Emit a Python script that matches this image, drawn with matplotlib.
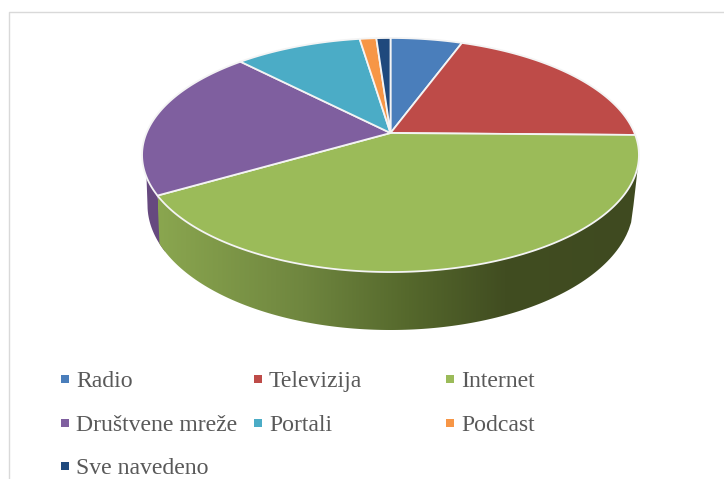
import numpy as np
import matplotlib
matplotlib.use("Agg")
import matplotlib.pyplot as plt
from matplotlib.colors import LinearSegmentedColormap
from matplotlib.patches import Polygon

labels = ["Radio", "Televizija", "Internet", "Društvene mreže", "Portali", "Podcast", "Sve navedeno"]
values = [5.6, 19.7, 41.4, 21.1, 9.9, 1.3, 1.1]
colors = ["#4a7ebb", "#be4b48", "#9bbb59", "#7f5f9f", "#4bacc6", "#f79646", "#1f497d"]

# pixel geometry of the tilted disc
CX, APEX_Y = 390.5, 133.0
A, K, C = 112.9, 0.188, 244.0     # perspective map of the unit circle
BOT_Y, BOT_RX, BOT_RY = 205.0, 243.0, 125.0
LEGEND_X = [65, 258, 450]
LEGEND_Y = [379, 423, 466]


def top_xy(theta):
    # theta is clockwise from 12 o'clock, radians
    x, y = np.sin(theta), np.cos(theta)
    w = 1 + K * y
    return CX + C * x / w, APEX_Y - A * y / w


def bottom_arc(x_from, x_to, n=200):
    xs = np.linspace(x_from, x_to, n)
    ys = BOT_Y + BOT_RY * np.sqrt(np.clip(1 - ((xs - CX) / BOT_RX) ** 2, 0, 1))
    return xs, ys


plt.rcParams["font.family"] = ["Liberation Serif", "DejaVu Serif"]
fig = plt.figure(figsize=(7.24, 4.79), dpi=100)
ax = fig.add_axes([0, 0, 1, 1])
ax.set_xlim(0, 724)
ax.set_ylim(479, 0)
ax.axis("off")

# chart frame
ax.plot([8.5, 8.5, 724], [479, 11.5, 11.5], color="#d9d9d9", lw=1.0, zorder=1)

edges = np.cumsum([0] + values) / sum(values) * 2 * np.pi

# purple sliver on the left side wall
t = np.linspace(edges[3], np.radians(268), 60)
xs, ys = top_xy(t)
bx, by = bottom_arc(CX - BOT_RX, 165)
ax.add_patch(Polygon(np.r_[np.c_[xs, ys], np.c_[bx, by]], closed=True,
                     fc="#66497f", ec="none", zorder=2))

# internet side wall with horizontal shading
t = np.linspace(np.radians(105), edges[3], 200)
xs, ys = top_xy(t)
bx, by = bottom_arc(xs[-1] + 2, CX + BOT_RX)
wall = Polygon(np.r_[np.c_[xs, ys], np.c_[bx, by]], closed=True, fc="none", ec="none")
ax.add_patch(wall)
shade = LinearSegmentedColormap.from_list(
    "wall", [(0, "#8aa64f"), (0.3, "#6f863f"), (0.52, "#55682c"), (0.72, "#414d21"), (1, "#3f4a20")])
im = ax.imshow(np.linspace(0, 1, 256)[None, :], cmap=shade, aspect="auto",
               extent=[158, 640, 335, 130], zorder=3)
im.set_clip_path(wall)
ax.set_xlim(0, 724)
ax.set_ylim(479, 0)

# top face
for v0, v1, c in zip(edges[:-1], edges[1:], colors):
    t = np.linspace(v0, v1, max(int((v1 - v0) * 80), 3))
    xs, ys = top_xy(t)
    ax.add_patch(Polygon(np.r_[[[CX, APEX_Y]], np.c_[xs, ys]], closed=True,
                         fc=c, ec="#f4f4f4", lw=1.3, zorder=4, joinstyle="round"))

# legend, filled row by row like the original
for i, (lab, c) in enumerate(zip(labels, colors)):
    r, col = divmod(i, 3)
    ax.scatter(LEGEND_X[col], LEGEND_Y[r], marker="s", s=26, color=c, lw=0, zorder=5)
    ax.text(LEGEND_X[col] + 11, LEGEND_Y[r], lab, fontsize=17.1, color="#595959",
            va="center_baseline", ha="left", zorder=5)

fig.savefig("out.png", dpi=100)
